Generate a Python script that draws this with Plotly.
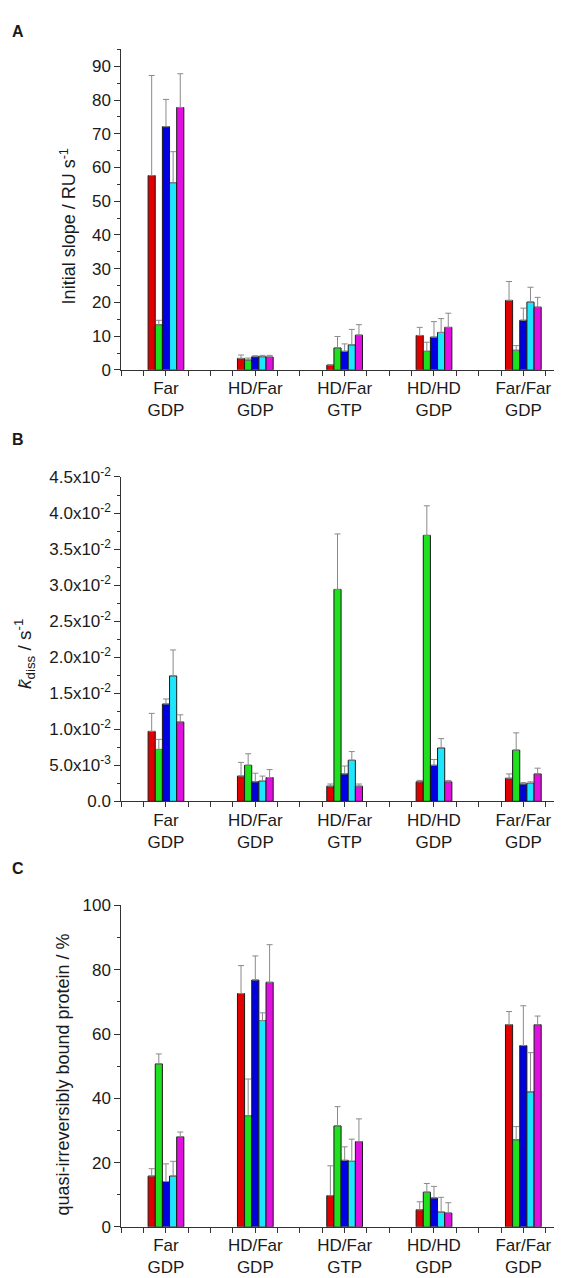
import plotly.graph_objects as go

categories = ["Far<br>GDP", "HD/Far<br>GDP", "HD/Far<br>GTP", "HD/HD<br>GDP", "Far/Far<br>GDP"]
series_names = ["red", "green", "blue", "cyan", "magenta"]
series_colors = ["#e00000", "#1ee01e", "#0000e0", "#1ee6ff", "#e010e0"]

# Panel A: initial slope / RU s^-1
a_red = [57.6, 3.4, 1.4, 10.2, 20.6]
a_red_err = [29.7, 1.0, 0.2, 2.4, 5.6]
a_green = [13.4, 2.9, 6.5, 5.5, 5.8]
a_green_err = [1.3, 0.6, 3.4, 2.7, 1.4]
a_blue = [72.1, 3.9, 5.5, 9.7, 14.7]
a_blue_err = [8.1, 0.3, 2.2, 4.6, 3.6]
a_cyan = [55.5, 3.9, 7.4, 11.1, 20.1]
a_cyan_err = [9.2, 0.4, 4.6, 4.1, 4.4]
a_magenta = [77.8, 3.8, 10.3, 12.6, 18.6]
a_magenta_err = [10.0, 0.5, 3.1, 4.2, 2.9]

# Panel B: k_diss / s^-1
b_red = [9.7e-3, 3.5e-3, 2.1e-3, 2.7e-3, 3.2e-3]
b_red_err = [2.5e-3, 1.9e-3, 0.3e-3, 0.2e-3, 0.6e-3]
b_green = [7.2e-3, 5.0e-3, 29.4e-3, 36.9e-3, 7.1e-3]
b_green_err = [1.4e-3, 1.6e-3, 7.7e-3, 4.1e-3, 2.4e-3]
b_blue = [13.5e-3, 2.7e-3, 3.8e-3, 5.0e-3, 2.4e-3]
b_blue_err = [0.7e-3, 1.2e-3, 1.1e-3, 0.8e-3, 0.2e-3]
b_cyan = [17.4e-3, 2.8e-3, 5.7e-3, 7.4e-3, 2.5e-3]
b_cyan_err = [3.6e-3, 0.7e-3, 1.2e-3, 1.3e-3, 0.2e-3]
b_magenta = [11.0e-3, 3.3e-3, 2.1e-3, 2.7e-3, 3.8e-3]
b_magenta_err = [1.0e-3, 1.1e-3, 0.3e-3, 0.2e-3, 0.8e-3]

# Panel C: quasi-irreversibly bound protein / %
c_red = [15.8, 72.6, 9.7, 5.3, 62.9]
c_red_err = [2.3, 8.7, 9.3, 2.5, 4.1]
c_green = [50.7, 34.6, 31.4, 10.8, 27.1]
c_green_err = [3.1, 11.4, 6.0, 2.7, 4.1]
c_blue = [14.1, 76.8, 20.7, 9.0, 56.4]
c_blue_err = [5.5, 7.5, 4.2, 3.6, 12.4]
c_cyan = [15.8, 64.2, 20.4, 4.6, 42.0]
c_cyan_err = [4.6, 2.4, 6.9, 4.6, 12.2]
c_magenta = [28.0, 76.1, 26.5, 4.3, 62.9]
c_magenta_err = [1.5, 11.7, 7.1, 3.2, 2.7]

b_tickvals = [0, 0.005, 0.010, 0.015, 0.020, 0.025, 0.030, 0.035, 0.040, 0.045]
b_ticktext = ["0.0", "5.0x10<sup>-3</sup>", "1.0x10<sup>-2</sup>", "1.5x10<sup>-2</sup>",
              "2.0x10<sup>-2</sup>", "2.5x10<sup>-2</sup>", "3.0x10<sup>-2</sup>",
              "3.5x10<sup>-2</sup>", "4.0x10<sup>-2</sup>", "4.5x10<sup>-2</sup>"]

panels = [
    ([a_red, a_green, a_blue, a_cyan, a_magenta],
     [a_red_err, a_green_err, a_blue_err, a_cyan_err, a_magenta_err]),
    ([b_red, b_green, b_blue, b_cyan, b_magenta],
     [b_red_err, b_green_err, b_blue_err, b_cyan_err, b_magenta_err]),
    ([c_red, c_green, c_blue, c_cyan, c_magenta],
     [c_red_err, c_green_err, c_blue_err, c_cyan_err, c_magenta_err]),
]

W, H = 562, 1278
FONT = "Arial, 'Liberation Sans', sans-serif"
x_pos = list(range(1, len(categories) + 1))

fig = go.Figure()
for p, (vals, errs) in enumerate(panels):
    xa = "x" if p == 0 else f"x{p+1}"
    ya = "y" if p == 0 else f"y{p+1}"
    for name, color, v, e in zip(series_names, series_colors, vals, errs):
        fig.add_trace(go.Bar(
            x=x_pos, y=v, name=name, xaxis=xa, yaxis=ya, offsetgroup=name,
            marker=dict(color=color, line=dict(color="#1a1a1a", width=1)),
            error_y=dict(type="data", symmetric=False, array=e,
                         arrayminus=[0] * len(e), color="#8a8a8a",
                         thickness=1, width=3),
            showlegend=False,
        ))

def py(px):
    return 1 - px / H

x_dom = [113.3 / W, 560 / W]
y_doms = [[py(356), py(30)], [py(795), py(465)], [py(1228), py(901)]]

axis_common = dict(showline=True, linecolor="#333", linewidth=1, ticks="outside",
                   tickcolor="#333", tickwidth=1, showgrid=False, zeroline=False,
                   tickfont=dict(family=FONT, size=17, color="#1a1a1a"))

for p in range(3):
    xk = "xaxis" if p == 0 else f"xaxis{p+1}"
    yk = "yaxis" if p == 0 else f"yaxis{p+1}"
    ya = "y" if p == 0 else f"y{p+1}"
    xa = "x" if p == 0 else f"x{p+1}"
    fig.layout[xk] = dict(axis_common, domain=x_dom, anchor=ya, range=[0.5, 5.5],
                          tickmode="array", tickvals=x_pos, ticktext=categories,
                          ticklen=5, ticklabelstandoff=-2,
                          minor=dict(tickmode="linear", tick0=0.5, dtick=0.25,
                                     ticklen=5, ticks="outside", tickcolor="#333"))
    if p == 0:
        yax = dict(range=[0, 95], tickmode="linear", tick0=0, dtick=10,
                   minor=dict(tickmode="linear", tick0=0, dtick=5, ticklen=3,
                              ticks="outside", tickcolor="#333"))
    elif p == 1:
        yax = dict(range=[0, 0.045], tickmode="array", tickvals=b_tickvals,
                   ticktext=b_ticktext,
                   minor=dict(tickmode="linear", tick0=0, dtick=0.0025, ticklen=3,
                              ticks="outside", tickcolor="#333"))
    else:
        yax = dict(range=[0, 100], tickmode="linear", tick0=0, dtick=20,
                   minor=dict(tickmode="linear", tick0=0, dtick=10, ticklen=3,
                              ticks="outside", tickcolor="#333"))
    fig.layout[yk] = dict(axis_common, domain=y_doms[p], anchor=xa, ticklen=6, **yax)

annotations = [
    dict(text="<b>A</b>", x=2 / W, y=py(12), xanchor="left", yanchor="middle",
         font=dict(size=16)),
    dict(text="<b>B</b>", x=2 / W, y=py(427), xanchor="left", yanchor="middle",
         font=dict(size=16)),
    dict(text="<b>C</b>", x=2 / W, y=py(863), xanchor="left", yanchor="middle",
         font=dict(size=16)),
    dict(text="Initial slope / RU s<sup>-1</sup>", x=60 / W, y=py(210),
         textangle=-90, xanchor="center", yanchor="middle", font=dict(size=18)),
    dict(text="<i>k\u0304</i><sub>diss</sub> / s<sup>-1</sup>", x=17 / W, y=py(645),
         textangle=-90, xanchor="center", yanchor="middle", font=dict(size=19)),
    dict(text="quasi-irreversibly bound protein / %", x=55 / W, y=py(1073),
         textangle=-90, xanchor="center", yanchor="middle", font=dict(size=18)),
]
for a in annotations:
    a.update(xref="paper", yref="paper", showarrow=False)
    a["font"].update(family=FONT, color="#1a1a1a")

fig.update_layout(
    width=W, height=H, margin=dict(l=0, r=0, t=0, b=0),
    paper_bgcolor="white", plot_bgcolor="white",
    barmode="group", bargap=0.6, bargroupgap=0,
    annotations=annotations,
    font=dict(family=FONT, color="#1a1a1a"),
)

fig.write_html("out.html")
